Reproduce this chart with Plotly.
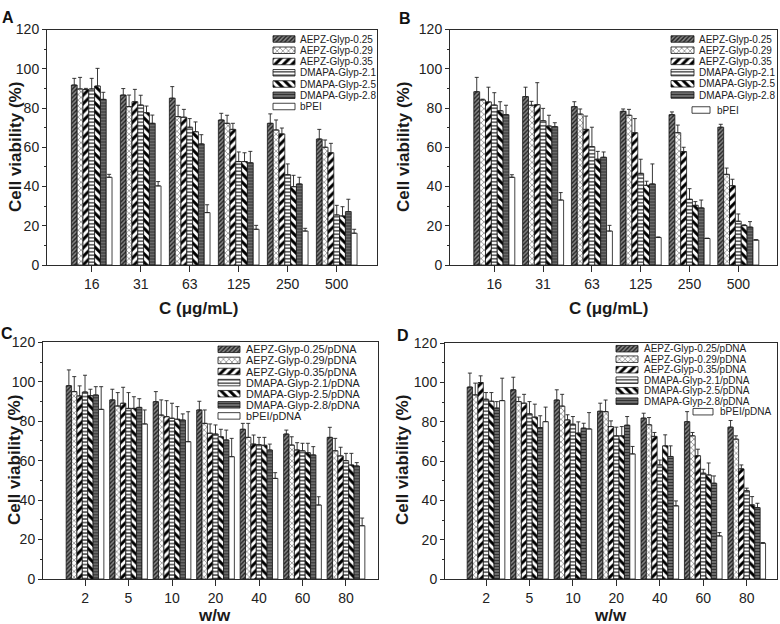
import plotly.graph_objects as go

# ---------------- data ----------------
SERIES_AB = ["AEPZ-Glyp-0.25", "AEPZ-Glyp-0.29", "AEPZ-Glyp-0.35",
             "DMAPA-Glyp-2.1", "DMAPA-Glyp-2.5", "DMAPA-Glyp-2.8", "bPEI"]
SERIES_CD = ["AEPZ-Glyp-0.25/pDNA", "AEPZ-Glyp-0.29/pDNA", "AEPZ-Glyp-0.35/pDNA",
             "DMAPA-Glyp-2.1/pDNA", "DMAPA-Glyp-2.5/pDNA", "DMAPA-Glyp-2.8/pDNA", "bPEI/pDNA"]
CAT_AB = ["16", "31", "63", "125", "250", "500"]
CAT_CD = ["2", "5", "10", "20", "40", "60", "80"]

A_VALUES = [
    [91.7, 86.6, 85.0, 73.9, 72.2, 64.2],
    [89.7, 80.7, 75.6, 72.2, 68.8, 60.0],
    [89.4, 83.2, 75.3, 69.1, 66.8, 57.2],
    [89.7, 81.5, 70.2, 52.7, 46.0, 25.5],
    [91.2, 77.6, 67.9, 52.7, 39.9, 25.0],
    [84.4, 72.2, 61.7, 52.1, 41.3, 27.2],
    [44.7, 40.3, 26.7, 18.2, 17.3, 16.2],
]
A_SD = [
    [3.4, 3.3, 5.9, 3.4, 4.8, 4.9],
    [5.9, 5.9, 5.8, 4.1, 5.1, 3.7],
    [0.6, 6.3, 4.0, 3.1, 3.0, 4.8],
    [5.4, 5.0, 4.4, 4.9, 5.5, 4.9],
    [9.0, 3.4, 5.0, 4.5, 5.8, 4.7],
    [3.6, 4.2, 4.7, 5.8, 3.4, 6.3],
    [1.5, 2.2, 4.0, 2.0, 1.4, 2.0],
]
B_VALUES = [
    [88.3, 85.8, 80.7, 78.3, 76.6, 70.2],
    [84.1, 81.4, 76.9, 76.3, 67.4, 46.2],
    [83.1, 81.7, 69.1, 67.4, 57.8, 40.4],
    [81.5, 73.5, 60.3, 46.7, 33.5, 22.3],
    [78.6, 70.8, 53.9, 40.6, 30.4, 20.1],
    [76.6, 70.5, 54.9, 41.3, 29.1, 19.3],
    [44.7, 33.1, 17.3, 14.0, 13.5, 12.7],
]
B_SD = [
    [7.3, 4.8, 2.5, 1.2, 1.4, 1.5],
    [0.4, 2.0, 2.6, 3.0, 3.9, 3.2],
    [7.5, 11.2, 6.8, 7.2, 2.2, 3.3],
    [6.3, 6.3, 9.9, 7.2, 5.4, 3.7],
    [4.6, 5.5, 4.0, 2.1, 1.9, 0.4],
    [4.8, 2.0, 2.7, 10.2, 4.0, 2.8],
    [1.3, 3.8, 2.9, 0.3, 0.2, 0.2],
]
C_VALUES = [
    [98.0, 90.8, 89.9, 85.7, 75.9, 73.5, 71.8],
    [95.0, 87.7, 83.1, 78.9, 71.8, 67.9, 65.0],
    [92.8, 89.1, 82.3, 73.9, 68.4, 65.4, 62.4],
    [94.8, 86.5, 81.5, 73.5, 68.1, 65.0, 60.0],
    [92.9, 86.5, 81.0, 72.1, 67.8, 64.0, 57.8],
    [93.3, 87.0, 80.6, 70.5, 65.4, 62.9, 57.3],
    [86.0, 78.6, 69.6, 62.0, 51.0, 37.5, 27.0],
]
C_SD = [
    [8.0, 5.4, 5.1, 4.4, 3.0, 2.0, 5.1],
    [7.6, 6.8, 7.7, 6.8, 7.1, 4.2, 6.3],
    [5.1, 8.1, 8.1, 4.7, 4.6, 3.7, 4.4],
    [8.5, 8.0, 7.6, 4.6, 3.7, 3.8, 3.7],
    [3.3, 5.9, 6.4, 3.8, 4.0, 4.8, 5.9],
    [4.2, 4.4, 3.1, 5.0, 3.0, 4.2, 1.7],
    [11.5, 7.1, 15.2, 9.3, 2.9, 4.2, 3.9],
]
D_VALUES = [
    [97.6, 96.2, 91.0, 85.3, 81.8, 80.0, 77.2],
    [93.6, 90.2, 87.9, 85.1, 78.4, 72.8, 71.1],
    [99.9, 89.4, 80.9, 77.5, 72.5, 62.7, 56.0],
    [91.4, 84.0, 78.7, 72.8, 58.0, 53.8, 44.9],
    [90.4, 82.3, 74.2, 72.8, 67.7, 52.9, 37.7],
    [86.9, 77.0, 76.7, 78.2, 62.3, 48.7, 36.3],
    [90.7, 80.0, 76.3, 63.6, 37.2, 21.9, 18.2],
]
D_SD = [
    [7.1, 6.4, 5.2, 4.1, 2.5, 5.1, 3.4],
    [6.0, 2.3, 6.0, 5.9, 3.7, 1.7, 1.7],
    [3.4, 4.5, 2.6, 2.9, 2.0, 3.3, 2.0],
    [3.4, 6.2, 3.9, 4.4, 2.5, 2.0, 1.3],
    [4.4, 6.6, 5.7, 4.7, 5.6, 6.1, 4.2],
    [3.3, 6.0, 2.5, 4.4, 5.4, 3.7, 2.2],
    [11.4, 7.4, 8.3, 3.8, 2.5, 1.7, 0.3],
]

# ---------------- styles ----------------
W, H = 780, 624
FONT = "Liberation Sans, Arial, sans-serif"
AX = "#2b2b2b"
PATTERNS = [
    dict(shape="/", bgcolor="#858585", fgcolor="#222222", size=3, solidity=0.45),
    dict(shape="x", bgcolor="#ffffff", fgcolor="#8c8c8c", size=4, solidity=0.35),
    dict(shape="/", bgcolor="#ffffff", fgcolor="#000000", size=6, solidity=0.5),
    dict(shape="-", bgcolor="#ffffff", fgcolor="#222222", size=3.5, solidity=0.35),
    dict(shape="\\", bgcolor="#ffffff", fgcolor="#000000", size=6, solidity=0.5),
    dict(shape="-", bgcolor="#777777", fgcolor="#333333", size=3, solidity=0.45),
    dict(shape="", bgcolor="#ffffff", fgcolor="#ffffff", size=4, solidity=0.3),
]

# pixel layout of each panel: (left, right, top, bottom)
PANELS = [
    dict(key="A", box=(47, 377, 29.5, 265), xr=(0.088, 6.822), group=0.83,
         cats=CAT_AB, names=SERIES_AB, vals=A_VALUES, sds=A_SD,
         xtitle="C (μg/mL)", xt=(198, 308), yt=(15, 147), letter=(8, 17),
         leg=dict(sx=273, sw=22, tx=298, y0=39, dy=11.25, last=None, fs=10)),
    dict(key="B", box=(450, 777, 29.5, 265), xr=(0.092, 6.793), group=0.84,
         cats=CAT_AB, names=SERIES_AB, vals=B_VALUES, sds=B_SD,
         xtitle="C (μg/mL)", xt=(608, 308), yt=(403, 147), letter=(405, 18),
         leg=dict(sx=671, sw=23, tx=697, y0=39, dy=11.2, last=(692, 18, 715, 110), fs=10)),
    dict(key="C", box=(43, 377.7, 342.3, 579), xr=(0.034, 7.729), group=0.867,
         cats=CAT_CD, names=SERIES_CD, vals=C_VALUES, sds=C_SD,
         xtitle="w/w", xt=(214, 615), yt=(14, 460), letter=(7, 333),
         leg=dict(sx=218, sw=22, tx=244, y0=349.3, dy=11.1, last=None, fs=10.8)),
    dict(key="D", box=(445, 777, 343, 579), xr=(0.056, 7.697), group=0.867,
         cats=CAT_CD, names=SERIES_CD, vals=D_VALUES, sds=D_SD,
         xtitle="w/w", xt=(610, 615), yt=(402, 460), letter=(403, 335),
         leg=dict(sx=616, sw=22, tx=642, y0=348.7, dy=10.5, last=(693, 20, 718, 411.7), fs=10)),
]

fig = go.Figure()
layout = dict(
    template="none",
    width=W, height=H, margin=dict(l=0, r=0, t=0, b=0, pad=0, autoexpand=False),
    paper_bgcolor="white", plot_bgcolor="rgba(0,0,0,0)",
    barmode="overlay", showlegend=False,
    font=dict(family=FONT, color="#222", size=13),
)
annotations = []

for i, p in enumerate(PANELS):
    n = i + 1
    xa = "x" if n == 1 else f"x{n}"
    ya = "y" if n == 1 else f"y{n}"
    l, r, t, b = p["box"]
    layout[f"xaxis{'' if n == 1 else n}"] = dict(
        domain=[l / W, r / W], anchor=ya, range=list(p["xr"]), automargin=False,
        tickmode="array", tickvals=list(range(1, len(p["cats"]) + 1)), ticktext=p["cats"],
        ticks="outside", ticklen=6, tickwidth=1, tickcolor=AX,
        showline=True, mirror=True, linecolor=AX, linewidth=1,
        showgrid=False, zeroline=False, fixedrange=True,
        tickfont=dict(size=14, family=FONT, color="#222"),
    )
    layout[f"yaxis{'' if n == 1 else n}"] = dict(
        domain=[1 - b / H, 1 - t / H], anchor=xa, range=[0, 120], automargin=False,
        tickmode="linear", tick0=0, dtick=20,
        ticks="outside", ticklen=4, tickwidth=1, tickcolor=AX,
        minor=dict(ticks="outside", ticklen=2.5, dtick=10, tick0=0, tickcolor=AX, showgrid=False),
        showline=True, mirror=True, linecolor=AX, linewidth=1,
        showgrid=False, zeroline=False, fixedrange=True,
        tickfont=dict(size=14, family=FONT, color="#222"),
    )
    ncat = len(p["cats"])
    xs = list(range(1, ncat + 1))
    w = p["group"] / 7
    for s in range(7):
        fig.add_trace(go.Bar(
            x=xs, y=p["vals"][s], width=w, offset=-p["group"] / 2 + s * w,
            xaxis=xa, yaxis=ya, name=p["names"][s], opacity=1,
            marker=dict(color=PATTERNS[s]["bgcolor"], line=dict(color="#151515", width=0.8),
                        pattern=PATTERNS[s]),
            error_y=dict(type="data", array=p["sds"][s], arrayminus=[0] * ncat,
                         symmetric=False, color="#222", thickness=0.9, width=2),
            hoverinfo="skip",
        ))
    # titles and panel letters
    annotations.append(dict(x=p["xt"][0], y=p["xt"][1], xref="x5", yref="y5", text=f"<b>{p['xtitle']}</b>",
                            showarrow=False, xanchor="center", yanchor="middle",
                            font=dict(size=17, family=FONT, color="#1a1a1a")))
    annotations.append(dict(x=p["yt"][0], y=p["yt"][1], xref="x5", yref="y5", text="<b>Cell viability (%)</b>",
                            showarrow=False, textangle=-90, xanchor="center", yanchor="middle",
                            font=dict(size=17, family=FONT, color="#1a1a1a")))
    annotations.append(dict(x=p["letter"][0], y=p["letter"][1], xref="x5", yref="y5", text=f"<b>{p['key']}</b>",
                            showarrow=False, xanchor="center", yanchor="middle",
                            font=dict(size=16, family=FONT, color="#111")))

# legend overlay axis in pixel units
layout["xaxis5"] = dict(domain=[0, 1], range=[0, W], visible=False, fixedrange=True, anchor="y5", automargin=False)
layout["yaxis5"] = dict(domain=[0, 1], range=[H, 0], visible=False, fixedrange=True, anchor="x5", automargin=False)

for s in range(7):
    ys, xs, bases = [], [], []
    for p in PANELS:
        lg = p["leg"]
        sx, sw, ty = lg["sx"], lg["sw"], lg["y0"] + s * lg["dy"]
        tx = lg["tx"]
        if s == 6 and lg["last"] is not None:
            sx, sw, tx, ty = lg["last"]
        ys.append(ty); xs.append(sw); bases.append(sx)
        annotations.append(dict(x=tx, y=ty, xref="x5", yref="y5", text=p["names"][s],
                                showarrow=False, xanchor="left", yanchor="middle",
                                font=dict(size=lg["fs"], family=FONT, color="#222")))
    fig.add_trace(go.Bar(
        x=xs, y=ys, base=bases, orientation="h", width=6.5,
        xaxis="x5", yaxis="y5", opacity=1, hoverinfo="skip", showlegend=False,
        marker=dict(color=PATTERNS[s]["bgcolor"], line=dict(color="#151515", width=0.8),
                    pattern=PATTERNS[s]),
    ))

layout["annotations"] = annotations
fig.update_layout(**layout)
fig.write_html("out.html",
               config={"displayModeBar": False, "displaylogo": False},
               post_script="document.body.style.margin='0';document.body.style.padding='0';"
                           "document.documentElement.style.overflow='hidden';")
